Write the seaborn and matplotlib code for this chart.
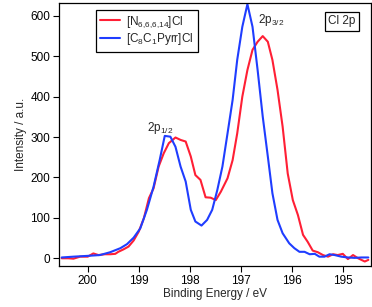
import matplotlib
matplotlib.use("Agg")
import matplotlib.pyplot as plt
import pandas as pd
import seaborn as sns

# Binding energy (eV) and intensity (a.u.)
be_n6 = [200.51, 200.38, 200.28, 200.15, 200.0, 199.89, 199.79, 199.66, 199.56, 199.46,
         199.4, 199.3, 199.2, 199.1, 199.0, 198.9, 198.8, 198.71, 198.61, 198.51,
         198.41, 198.28, 198.18, 198.08, 197.98, 197.89, 197.79, 197.69, 197.59, 197.49,
         197.39, 197.26, 197.16, 197.07, 196.97, 196.87, 196.77, 196.67, 196.57, 196.47,
         196.38, 196.28, 196.18, 196.08, 195.98, 195.88, 195.78, 195.69, 195.59, 195.49,
         195.39, 195.29, 195.19, 195.1, 195.0, 194.9, 194.8, 194.7, 194.57, 194.5]
int_n6 = [0, 0, -1, 4, 4, 12, 8, 10, 10, 11,
          16, 22, 29, 44, 66, 99, 149, 173, 227, 260,
          285, 299, 293, 289, 252, 206, 194, 151, 150, 144,
          165, 198, 243, 309, 400, 466, 516, 536, 550, 536,
          491, 417, 326, 210, 144, 107, 58, 41, 19, 15,
          8, 4, 10, 8, 11, -2, 8, 0, -8, -4]

be_pyrr = [200.51, 200.28, 200.0, 199.76, 199.56, 199.36, 199.23, 199.1, 198.97, 198.84,
           198.71, 198.59, 198.49, 198.38, 198.28, 198.18, 198.08, 197.98, 197.89, 197.77,
           197.66, 197.56, 197.46, 197.36, 197.26, 197.16, 197.07, 196.97, 196.87, 196.77,
           196.67, 196.57, 196.47, 196.38, 196.28, 196.18, 196.05, 195.95, 195.85, 195.75,
           195.65, 195.55, 195.46, 195.36, 195.26, 195.16, 195.03, 194.9, 194.77, 194.64, 194.5]
int_pyrr = [2, 4, 6, 8, 15, 25, 35, 51, 74, 120,
            177, 243, 303, 301, 276, 227, 190, 120, 91, 81,
            95, 120, 169, 227, 309, 392, 491, 573, 629, 573,
            466, 351, 252, 161, 95, 62, 37, 25, 16, 16,
            10, 11, 4, 4, 10, 8, 4, 2, 1, 2, 2]

labels = ["[N$_{6{,}6{,}6{,}14}$]Cl", "[C$_8$C$_1$Pyrr]Cl"]
colors = ["#ff1f35", "#1f3dff"]

df = pd.concat([
    pd.DataFrame({"be": be_n6, "intensity": int_n6, "sample": labels[0]}),
    pd.DataFrame({"be": be_pyrr, "intensity": int_pyrr, "sample": labels[1]}),
])

sns.set_style("ticks")
plt.rcParams["font.family"] = ["Liberation Sans", "DejaVu Sans"]
plt.rcParams["font.size"] = 8.5
plt.rcParams["mathtext.fontset"] = "custom"
plt.rcParams["mathtext.rm"] = "Liberation Sans"
plt.rcParams["mathtext.it"] = "Liberation Sans"

fig = plt.figure(figsize=(3.72, 3.07), dpi=100)
ax = fig.add_axes([0.159, 0.135, 0.838, 0.854])

sns.lineplot(data=df, x="be", y="intensity", hue="sample", palette=colors,
             sort=False, linewidth=1.5, ax=ax)

ax.set_xlim(200.56, 194.45)
ax.set_ylim(-18, 631)
ax.set_xticks([200, 199, 198, 197, 196, 195])
ax.set_yticks([0, 100, 200, 300, 400, 500, 600])
ax.set_xlabel("Binding Energy / eV", labelpad=1)
ax.set_ylabel("Intensity / a.u.", labelpad=2)
ax.tick_params(direction="out", length=4, width=0.8, colors="black", labelsize=8.5, pad=2.5)
for sp in ax.spines.values():
    sp.set_visible(True)
    sp.set_linewidth(0.9)
    sp.set_color("black")

leg = ax.legend(loc="upper left", bbox_to_anchor=(0.118, 0.975), frameon=True,
                fancybox=False, edgecolor="black", framealpha=1,
                handlelength=1.7, handletextpad=0.5, borderpad=0.35,
                labelspacing=0.15, fontsize=8.5, borderaxespad=0)
leg.get_frame().set_linewidth(0.9)
leg.set_title(None)

ax.text(196.41, 590, "2p$_{3/2}$", ha="center", va="center", fontsize=8.5)
ax.text(198.58, 323, "2p$_{1/2}$", ha="center", va="center", fontsize=8.5)
ax.text(0.907, 0.932, "Cl 2p", transform=ax.transAxes, ha="center", va="center",
        fontsize=8.5, bbox=dict(boxstyle="square,pad=0.3", fc="white", ec="black", lw=0.9))

fig.savefig("out.png", dpi=100)
